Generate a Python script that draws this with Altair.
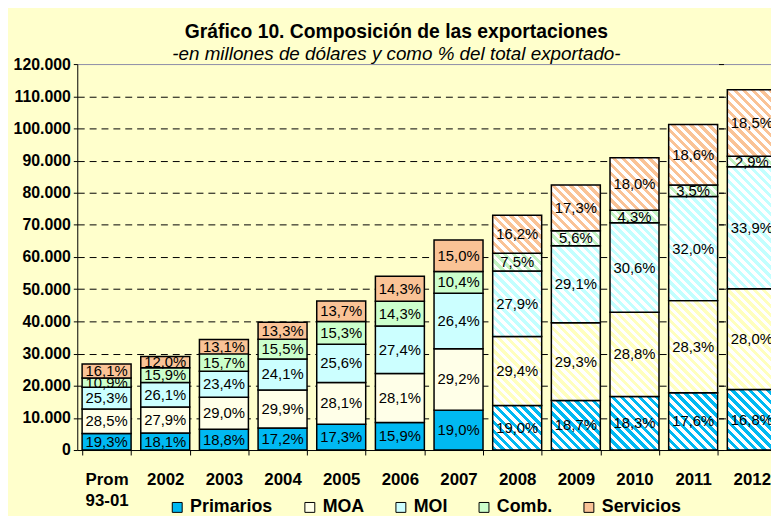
import altair as alt

# ---------------- data ----------------
categories = ["Prom 93-01", "2002", "2003", "2004", "2005", "2006", "2007",
              "2008", "2009", "2010", "2011", "2012"]
totals = [26700, 29100, 34400, 39700, 46300, 54000, 65300,
          73000, 82400, 90900, 101200, 111900]
series = ["Primarios", "MOA", "MOI", "Comb.", "Servicios"]
primarios = [19.3, 18.1, 18.8, 17.2, 17.3, 15.9, 19.0, 19.0, 18.7, 18.3, 17.6, 16.8]
moa = [28.5, 27.9, 29.0, 29.9, 28.1, 28.1, 29.2, 29.4, 29.3, 28.8, 28.3, 28.0]
moi = [25.3, 26.1, 23.4, 24.1, 25.6, 27.4, 26.4, 27.9, 29.1, 30.6, 32.0, 33.9]
comb = [10.9, 15.9, 15.7, 15.5, 15.3, 14.3, 10.4, 7.5, 5.6, 4.3, 3.5, 2.9]
servicios = [16.1, 12.0, 13.1, 13.3, 13.7, 14.3, 15.0, 16.2, 17.3, 18.0, 18.6, 18.5]
projected = [False] * 7 + [True] * 5

# ---------------- style ----------------
solid_colors = ["#00B9F2", "#FFFFE8", "#CCFFFF", "#CCFFCC", "#FAC396"]
stripe_colors = ["#00B9F2", "#FFFFBE", "#C2FFFF", "#C2F2C2", "#FAC396"]
BG = "#FFFFCC"
FONT = "Liberation Sans"

PLOT_W = 653          # visible plot area (11 bands)
PLOT_H = 390
Y_MAX = 120000
STEP = 59.27
RANGE_W = STEP * len(categories)
PAD_INNER = 0.165
BAR_W = STEP * (1 - PAD_INNER)
PERIOD = 9.0


def hatch(color, w, h):
    """Diagonal stripes as a linear gradient in bounding-box units."""
    n = (w + h) / PERIOD
    a = w * (w + h) / (w * w + h * h)
    b = -h * (w + h) / (w * w + h * h)
    stops = []
    k = 0
    while k < n:
        o0 = round(k / n, 4)
        o1 = round(min((k + 0.5) / n, 1.0), 4)
        o2 = round(min((k + 1) / n, 1.0), 4)
        stops.append({"offset": o0, "color": color})
        stops.append({"offset": o1, "color": color})
        if o1 < 1:
            stops.append({"offset": o1, "color": "#FFFFFF"})
            stops.append({"offset": o2, "color": "#FFFFFF"})
        k += 1
    return {"gradient": "linear", "x1": 0, "y1": 1,
            "x2": round(a, 5), "y2": round(1 + b, 5), "stops": stops}


pct_table = [primarios, moa, moi, comb, servicios]
rows = []
for i, cat in enumerate(categories):
    for j, s in enumerate(series):
        pct = pct_table[j][i]
        val = totals[i] * pct / 100.0
        row = {"cat": cat, "serie": s, "order": j, "value": val,
               "label": f"{pct:.1f}".replace(".", ",") + "%",
               "hatched": projected[i]}
        if projected[i]:
            row["grad"] = hatch(stripe_colors[j], BAR_W, val * PLOT_H / Y_MAX)
        rows.append(row)

data = alt.Data(values=rows)

x_scale = alt.Scale(domain=categories, range=[0, RANGE_W],
                    paddingInner=PAD_INNER, paddingOuter=PAD_INNER / 2)
y_scale = alt.Scale(domain=[0, Y_MAX], nice=False)
y_vals = list(range(0, Y_MAX + 1, 10000))

x_axis = alt.Axis(title=None, labelAngle=0, labelFontSize=17, labelFontWeight="bold",
                  labelColor="black", tickBand="extent", tickSize=5, tickColor="black",
                  domainColor="black", labelPadding=17, labelLineHeight=21,
                  labelExpr="datum.value == 'Prom 93-01' ? ['Prom', '93-01'] : datum.value",
                  grid=False)
y_axis = alt.Axis(title=None, values=y_vals, labelFontSize=16, labelFontWeight="bold",
                  labelColor="black", labelPadding=3, labelFlush=False,
                  labelExpr="replace(format(datum.value, ',d'), ',', '.')",
                  tickSize=4, tickColor="black", domainColor="black",
                  grid=True, gridDash=[7, 5], gridWidth=1,
                  gridColor={"condition": {"test": "datum.value == 0 || datum.value == 120000",
                                           "value": "transparent"},
                             "value": "black"})

solid = alt.Chart().transform_filter("!datum.hatched").mark_bar(
    stroke="black", strokeWidth=1.5
).encode(
    x=alt.X("cat:N", scale=x_scale, axis=x_axis),
    y=alt.Y("y0:Q", scale=y_scale, axis=y_axis),
    y2="y1:Q",
    color=alt.Color("serie:N", scale=alt.Scale(domain=series, range=solid_colors),
                    legend=alt.Legend(orient="none", legendX=92, legendY=439,
                                      direction="horizontal", title=None,
                                      symbolType="square", symbolSize=100,
                                      symbolStrokeColor="black", symbolStrokeWidth=1,
                                      symbolOpacity=1, labelFontSize=18,
                                      labelFontWeight="bold", labelColor="black",
                                      columnPadding=28, labelOffset=4, padding=0)),
)

hatched = alt.Chart().transform_filter("datum.hatched").mark_bar(
    stroke="black", strokeWidth=1.5
).encode(
    x=alt.X("cat:N", axis=None),
    y=alt.Y("y0:Q", axis=None),
    y2="y1:Q",
    fill=alt.Fill("grad:N", scale=None),
)

labels = alt.Chart().mark_text(fontSize=15, color="black").encode(
    x=alt.X("cat:N", axis=None),
    y=alt.Y("mid:Q", axis=None),
    text="label:N",
)

frame = alt.Chart().mark_point(opacity=0).encode(
    x=alt.X("cat:N", axis=alt.Axis(orient="top", labels=False, ticks=False,
                                   domainColor="#8C8CA8", title=None, grid=False)),
    y=alt.Y("y1:Q", axis=alt.Axis(orient="right", offset=-5, labels=False, domain=False,
                                  ticks=True, tickSize=5, tickColor="black", grid=False,
                                  title=None, values=y_vals)),
)

chart = alt.layer(solid, hatched, labels, frame, data=data).transform_stack(
    stack="value", groupby=["cat"], as_=["y0", "y1"],
    sort=[alt.SortField("order", order="ascending")]
).transform_calculate(
    mid="(datum.y0 + datum.y1) / 2"
).resolve_axis(
    x="independent", y="independent"
).properties(
    width=PLOT_W, height=PLOT_H,
    autosize=alt.AutoSizeParams(type="none"),
    padding={"left": 70, "top": 54, "right": 48, "bottom": 64},
    title=alt.TitleParams(
        text="Gráfico 10. Composición de las exportaciones",
        subtitle="-en millones de dólares y como % del total exportado-",
        anchor="middle", fontSize=19.5, fontWeight="bold", color="black",
        subtitleFontSize=19, subtitleFontStyle="italic", subtitleColor="black",
        subtitlePadding=3, offset=-9, dx=-4, font=FONT, subtitleFont=FONT),
).configure(
    background=BG, font=FONT
).configure_view(stroke=None)

chart.save("out.html", embed_options={"renderer": "svg", "actions": False})
